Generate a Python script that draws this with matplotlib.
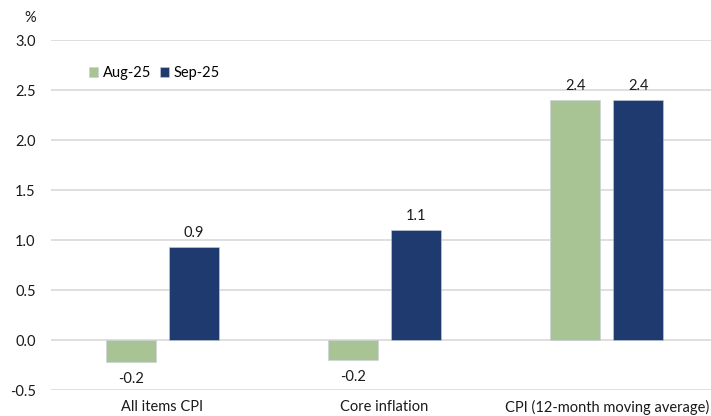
import matplotlib
matplotlib.use("Agg")
import matplotlib.pyplot as plt
import numpy as np

plt.rcParams['font.family'] = ['Lato', 'DejaVu Sans']

categories = ["All items CPI", "Core inflation", "CPI (12-month moving average)"]
series_names = ["Aug-25", "Sep-25"]
aug_values = [-0.22, -0.2, 2.4]
sep_values = [0.93, 1.1, 2.4]
y_ticks = [-0.5, 0.0, 0.5, 1.0, 1.5, 2.0, 2.5, 3.0]

colors = ["#a9c494", "#1f3a6e"]
fs = 10.5

fig = plt.figure(figsize=(7.11, 4.16), dpi=100)
W, H = 711, 416
left, right, bottom, top = 51, 718, 390, 40
ax = fig.add_axes([left / W, 1 - bottom / H, (right - left) / W, (bottom - top) / H])

x = np.arange(len(categories))
width = 0.225
offset = 0.1416

for vals, name, c, sign in [(aug_values, series_names[0], colors[0], -1),
                            (sep_values, series_names[1], colors[1], 1)]:
    bars = ax.bar(x + sign * offset, vals, width, color=c, label=name, zorder=3,
                  edgecolor="#c8cfdc", linewidth=0.4)
    for b, v in zip(bars, vals):
        cx = b.get_x() + b.get_width() / 2
        if v >= 0:
            ax.annotate(f"{v:.1f}", (cx, v), xytext=(0, 5), textcoords="offset points",
                        ha="center", va="bottom", fontsize=fs, color="#1a1a1a")
        else:
            ax.annotate(f"{v:.1f}", (cx, v), xytext=(0, -7), textcoords="offset points",
                        ha="center", va="top", fontsize=fs, color="#1a1a1a")

ax.set_ylim(-0.5, 3.0)
ax.set_xlim(-0.5, 2.5)
ax.set_yticks(y_ticks)
ax.set_yticklabels([f"{t:.1f}" for t in y_ticks], fontsize=fs, color="#1a1a1a")
ax.set_xticks(x)
ax.set_xticklabels(categories, fontsize=fs, color="#1a1a1a")
ax.tick_params(axis="both", length=0)
ax.tick_params(axis="x", pad=7)
ax.tick_params(axis="y", pad=11)
ax.yaxis.grid(True, color="#d9d9d9", linewidth=1.2, zorder=0)
ax.set_axisbelow(True)
for s in ax.spines.values():
    s.set_visible(False)

fig.text(30 / W, 1 - 18 / H, "%", ha="center", va="center", fontsize=fs, color="#1a1a1a")

ax.legend(loc="upper left", bbox_to_anchor=(32 / (right - left), 1 - 20 / (bottom - top)),
          frameon=False, ncol=2, fontsize=fs, handlelength=0.65, handleheight=0.65,
          handletextpad=0.3, columnspacing=0.6, borderaxespad=0)

fig.savefig("out.png", dpi=100)
